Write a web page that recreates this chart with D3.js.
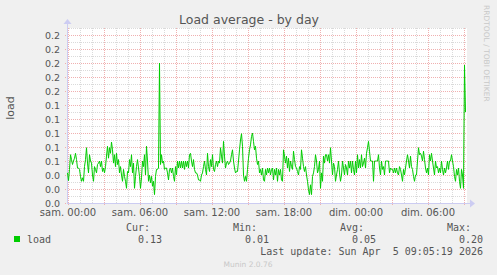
<!DOCTYPE html>
<html>
<head>
<meta charset="utf-8">
<script src="https://cdn.jsdelivr.net/npm/d3@7"></script>
<style>
  body { margin: 0; background: #f0f0f0; }
  svg { display: block; font-family: "DejaVu Sans", sans-serif; }
  .mono { font-family: "DejaVu Sans Mono", monospace; }
</style>
</head>
<body>
<svg id="chart" width="497" height="275"></svg>
<script>
// load samples, one every 5 minutes, starting fri 23:55
const loadValues = [
  0.043,0.032,0.048,0.069,0.062,0.055,0.060,0.064,0.071,0.062,
  0.050,0.050,0.048,0.038,0.031,0.036,0.031,0.052,0.062,0.079,
  0.057,0.043,0.069,0.060,0.057,0.040,0.031,0.052,0.048,0.043,
  0.055,0.057,0.060,0.052,0.060,0.045,0.050,0.043,0.052,0.067,
  0.081,0.064,0.079,0.071,0.087,0.076,0.057,0.069,0.052,0.071,
  0.055,0.062,0.043,0.052,0.040,0.031,0.048,0.038,0.031,0.021,
  0.045,0.043,0.062,0.052,0.069,0.043,0.057,0.021,0.038,0.052,
  0.062,0.050,0.038,0.021,0.036,0.060,0.052,0.069,0.040,0.081,
  0.060,0.031,0.040,0.029,0.038,0.024,0.031,0.012,0.038,0.048,
  0.048,0.050,0.200,0.055,0.069,0.057,0.060,0.048,0.050,0.050,
  0.043,0.033,0.048,0.050,0.043,0.050,0.038,0.031,0.052,0.040,
  0.060,0.050,0.060,0.050,0.060,0.050,0.060,0.048,0.060,0.052,
  0.060,0.050,0.069,0.071,0.060,0.052,0.062,0.048,0.043,0.043,
  0.040,0.033,0.033,
  0.031,0.040,0.043,0.052,0.060,0.048,0.040,0.071,0.052,0.045,
  0.062,0.052,0.069,0.048,0.045,0.055,0.060,0.052,0.060,0.057,
  0.079,0.067,0.057,0.088,0.067,0.050,0.057,0.060,0.055,0.057,
  0.060,0.069,0.076,0.060,0.050,0.043,0.045,0.045,0.060,0.076,
  0.090,0.099,0.081,0.040,0.031,0.038,0.031,0.048,0.064,0.076,
  0.083,0.095,0.100,0.088,0.076,0.081,0.064,0.055,0.060,0.043,
  0.048,0.040,0.050,0.033,0.031,0.048,0.040,0.050,0.043,0.050,
  0.040,0.048,0.050,0.033,0.048,0.040,0.050,0.031,0.048,0.040,
  0.048,0.033,0.031,0.076,0.067,0.057,0.067,0.050,0.064,0.045,
  0.060,0.052,0.048,0.074,0.062,0.052,0.050,0.045,0.040,0.052,
  0.048,0.076,0.064,0.052,0.045,0.052,0.040,0.031,0.019,0.012,
  0.026,0.012,0.038,0.043,0.052,0.069,0.060,0.043,0.048,0.060,
  0.021,0.043,0.031,0.067,0.057,0.069,0.069,0.060,0.069,0.057,
  0.079,0.060,0.040,0.057,0.052,
  0.031,0.040,0.048,0.060,0.043,0.031,0.040,0.060,0.050,0.040,
  0.055,0.050,0.040,0.060,0.050,0.060,0.043,0.060,0.048,0.040,
  0.060,0.043,0.069,0.050,0.062,0.050,0.069,0.052,0.057,0.064,
  0.050,0.071,0.079,0.088,0.074,0.060,0.060,0.060,0.031,0.060,
  0.060,0.060,0.060,0.069,0.050,0.040,0.060,0.048,0.052,0.040,
  0.060,0.060,0.060,0.060,0.043,0.050,0.048,0.048,0.043,0.050,
  0.043,0.050,0.043,0.040,0.052,0.048,0.040,0.031,0.048,0.040,
  0.050,0.060,0.069,0.060,0.050,0.067,0.052,0.048,0.038,0.031,
  0.040,0.040,0.060,0.079,0.069,0.071,0.067,0.060,0.074,0.062,
  0.050,0.043,0.050,0.040,0.069,0.060,0.071,0.060,0.050,0.040,
  0.060,0.050,0.052,0.043,0.050,0.043,0.060,0.048,0.040,0.050,
  0.043,0.050,0.060,0.048,0.060,0.060,0.069,0.060,0.052,0.038,
  0.031,0.048,0.040,0.050,0.031,0.021,0.048,0.040,
  0.021,0.197,0.130
];
const sampleStart = Date.UTC(2026, 3, 3, 23, 55);
const sampleStepMin = 5;
const viewMinutes = 2000;

const tickTimes = [
  Date.UTC(2026, 3, 4, 0), Date.UTC(2026, 3, 4, 6), Date.UTC(2026, 3, 4, 12),
  Date.UTC(2026, 3, 4, 18), Date.UTC(2026, 3, 5, 0), Date.UTC(2026, 3, 5, 6)
];
const tickLabels = ["sam. 00:00", "sam. 06:00", "sam. 12:00", "sam. 18:00", "dim. 00:00", "dim. 06:00"];

const legendHeads = ["Cur:", "Min:", "Avg:", "Max:"];
const legendValues = ["0.13", "0.01", "0.05", "0.20"];
const seriesName = "load";
const lastUpdate = "Last update: Sun Apr  5 09:05:19 2026";

const svg = d3.select("#chart");
const pLeft = 67, pRight = 467, pTop = 28, pBottom = 203;

const x = d3.scaleUtc()
  .domain([new Date(sampleStart), new Date(sampleStart + viewMinutes * 60000)])
  .range([pLeft, pRight]);
const y = d3.scaleLinear().domain([0, 0.25]).range([pBottom, pTop]);

svg.append("rect").attr("width", 497).attr("height", 275).attr("fill", "#f0f0f0");
svg.append("rect").attr("x", pLeft).attr("y", pTop).attr("width", pRight - pLeft).attr("height", pBottom - pTop).attr("fill", "#fff");

// grid
const g = svg.append("g");
const hours = d3.utcHour.range(x.domain()[0], x.domain()[1]);
g.selectAll(".vmin").data(hours.filter(d => d.getUTCHours() % 3 !== 0)).enter().append("line")
  .attr("x1", d => Math.round(x(d)) + 0.5).attr("x2", d => Math.round(x(d)) + 0.5)
  .attr("y1", pTop).attr("y2", pBottom)
  .attr("stroke", "#dadada").attr("stroke-dasharray", "1,1");
const yMinor = d3.range(1, 26).filter(i => i % 2 === 1).map(i => i / 100);
g.selectAll(".hmin").data(yMinor).enter().append("line")
  .attr("x1", pLeft).attr("x2", pRight)
  .attr("y1", d => Math.round(y(d)) + 0.5).attr("y2", d => Math.round(y(d)) + 0.5)
  .attr("stroke", "#dadada").attr("stroke-dasharray", "1,1");
g.selectAll(".vmaj").data(hours.filter(d => d.getUTCHours() % 3 === 0)).enter().append("line")
  .attr("x1", d => Math.round(x(d)) + 0.5).attr("x2", d => Math.round(x(d)) + 0.5)
  .attr("y1", pTop).attr("y2", pBottom + 2)
  .attr("stroke", "#f0b0b0").attr("stroke-dasharray", "1,1");
const yMajor = d3.range(0, 13).map(i => i * 0.02);
g.selectAll(".hmaj").data(yMajor).enter().append("line")
  .attr("x1", pLeft - 2).attr("x2", pRight)
  .attr("y1", d => Math.round(y(d)) + 0.5).attr("y2", d => Math.round(y(d)) + 0.5)
  .attr("stroke", "#f0b0b0").attr("stroke-dasharray", "1,1");

// y labels
svg.selectAll(".ylab").data(yMajor).enter().append("text")
  .attr("x", 60).attr("y", d => y(d) + 3.5)
  .attr("text-anchor", "end").attr("font-size", 9.5).attr("fill", "#555")
  .text(d => d3.format(".1f")(d));

// x labels
svg.selectAll(".xlab").data(tickTimes).enter().append("text")
  .attr("x", d => x(d)).attr("y", 215.5)
  .attr("text-anchor", "middle").attr("font-size", 10).attr("fill", "#555")
  .text((d, i) => tickLabels[i]);

// axes
svg.append("line").attr("x1", pLeft + 0.5).attr("x2", pLeft + 0.5).attr("y1", pBottom + 1).attr("y2", pTop - 4)
  .attr("stroke", "#ccccf2");
svg.append("line").attr("x1", pLeft).attr("x2", pRight + 3).attr("y1", pBottom + 0.5).attr("y2", pBottom + 0.5)
  .attr("stroke", "#ccccf2");
svg.append("path").attr("d", `M${pLeft - 3.5},${pTop - 4}L${pLeft + 4.5},${pTop - 4}L${pLeft + 0.5},${pTop - 9}Z`).attr("fill", "#ccccf2");
svg.append("path").attr("d", `M${pRight + 3},${pBottom - 3.5}L${pRight + 3},${pBottom + 4.5}L${pRight + 8},${pBottom + 0.5}Z`).attr("fill", "#ccccf2");

// series
const line = d3.line()
  .x((d, i) => x(new Date(sampleStart + i * sampleStepMin * 60000)) + 0.5)
  .y(d => y(d));
svg.append("path").datum(loadValues).attr("d", line)
  .attr("fill", "none").attr("stroke", "#00cc00").attr("stroke-width", 1);

// title + labels
svg.append("text").attr("x", 249).attr("y", 24).attr("text-anchor", "middle")
  .attr("font-size", 12.5).attr("fill", "#555").text("Load average - by day");
svg.append("text").attr("transform", "translate(14,108) rotate(-90)").attr("text-anchor", "middle")
  .attr("font-size", 11).attr("fill", "#555").text(seriesName);
svg.append("text").attr("transform", "translate(484,5) rotate(90)").attr("text-anchor", "start")
  .attr("font-size", 7.5).attr("fill", "#c8c8c8").text("RRDTOOL / TOBI OETIKER");

// legend
const legX = [162, 269, 376, 483];
svg.selectAll(".lh").data(legendHeads).enter().append("text").attr("class", "mono")
  .attr("x", (d, i) => legX[i] - 12).attr("y", 231).attr("text-anchor", "end")
  .attr("font-size", 10).attr("fill", "#555").text(d => d);
svg.selectAll(".lv").data(legendValues).enter().append("text").attr("class", "mono")
  .attr("x", (d, i) => legX[i]).attr("y", 243).attr("text-anchor", "end")
  .attr("font-size", 10).attr("fill", "#555").text(d => d);
svg.append("rect").attr("x", 14).attr("y", 236).attr("width", 6).attr("height", 6).attr("fill", "#00cc00");
svg.append("text").attr("class", "mono").attr("x", 27).attr("y", 243)
  .attr("font-size", 10).attr("fill", "#555").text(seriesName);
svg.append("text").attr("class", "mono").attr("x", 483).attr("y", 255).attr("text-anchor", "end")
  .attr("font-size", 10).attr("fill", "#555").style("white-space", "pre").text(lastUpdate);
svg.append("text").attr("x", 248).attr("y", 267).attr("text-anchor", "middle")
  .attr("font-size", 7.5).attr("fill", "#c8c8c8").text("Munin 2.0.76");
</script>
</body>
</html>
